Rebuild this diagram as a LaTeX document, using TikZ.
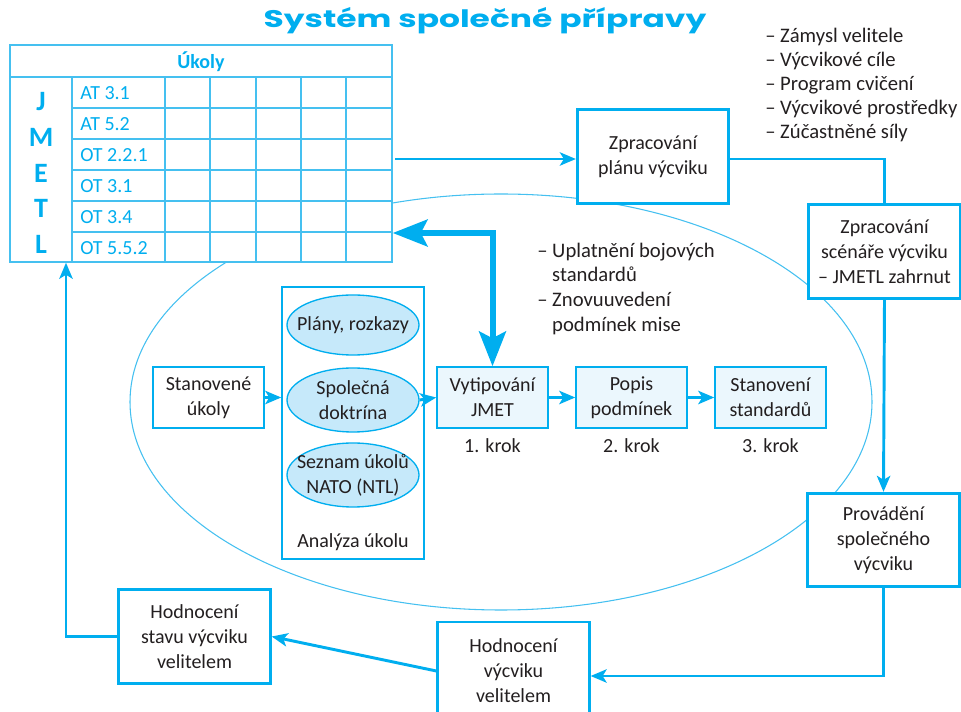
\documentclass[tikz,border=0pt]{standalone}
\usepackage{fontspec}
\setmainfont{Carlito}
\newfontfamily\titlefont{Poppins}
\usetikzlibrary{arrows.meta,shapes.geometric}
\definecolor{cy}{HTML}{00AEEF}
\definecolor{cyl}{HTML}{45C0F0}
\definecolor{ellfill}{HTML}{C6E9FA}
\definecolor{stepfill}{HTML}{EBF7FD}
\definecolor{txt}{HTML}{231F20}
\begin{document}
\begin{tikzpicture}[x=0.75pt,y=-0.75pt,
  base/.style={align=center, inner sep=0pt, text=txt, font=\fontsize{15}{18.75}\selectfont},
  thickbox/.style={base, draw=cy, line width=2.2pt, fill=white, minimum width=113.5pt, minimum height=70pt},
  thinbox/.style={base, draw=cy, line width=1.1pt, fill=white, minimum width=83.25pt, minimum height=45.75pt},
  stepbox/.style={thinbox, fill=stepfill},
  ellbox/.style={ellipse, draw=cy, line width=1pt, fill=ellfill, minimum width=99pt, minimum height=47pt, inner sep=0pt},
  lbl/.style={base},
  tabline/.style={draw=cyl, line width=1.1pt},
  tabtxt/.style={inner sep=0pt, text=cy, font=\fontsize{15}{17}\selectfont, anchor=west},
  letter/.style={inner sep=0pt, text=cy, font=\fontsize{21}{22}\selectfont\bfseries},
  conn/.style={draw=cy, line width=2.2pt},
  arr/.style={conn, -{Stealth[length=12pt,width=10pt,inset=3pt]}},
  dbl/.style={draw=cy, line width=4.5pt, {Stealth[length=26pt,width=20pt,inset=5pt]}-{Stealth[length=26pt,width=20pt,inset=5pt]}},
  listtxt/.style={inner sep=0pt, text=txt, align=left, font=\fontsize{15.5}{18}\selectfont}
]
\useasboundingbox (0,0) rectangle (961,712);

% big ellipse
\node[ellipse, draw=cyl, line width=0.8pt, minimum width=556.5pt, minimum height=312pt, inner sep=0pt] (big) at (501,402) {};

% title
\node[inner sep=0pt, text=cy] (title) at (485,21) {\scalebox{1.37}[1]{\titlefont\bfseries\fontsize{18}{20}\selectfont Systém společné přípravy}};

% table
\node[draw=cyl, line width=1.1pt, fill=white, minimum width=286.5pt, minimum height=162.75pt, inner sep=0pt] (tab) at (201,153.5) {};
\draw[tabline] (10,77) -- (392,77);
\foreach \yy in {108,139,170,201,232} \draw[tabline] (72,\yy) -- (392,\yy);
\foreach \xx in {72,165,210,256,301,346} \draw[tabline] (\xx,77) -- (\xx,262);
\node[inner sep=0pt, text=cy, font=\fontsize{15}{17}\selectfont\bfseries] (uk) at (201,62) {Úkoly};
\node[tabtxt] (r1) at (80,93) {AT 3.1};
\node[tabtxt] (r2) at (80,124) {AT 5.2};
\node[tabtxt] (r3) at (80,155) {OT 2.2.1};
\node[tabtxt] (r4) at (80,186) {OT 3.1};
\node[tabtxt] (r5) at (80,217) {OT 3.4};
\node[tabtxt] (r6) at (80,248) {OT 5.5.2};
\node[letter] (lJ) at (41,102) {J};
\node[letter] (lM) at (41,137) {M};
\node[letter] (lE) at (41,173) {E};
\node[letter] (lT) at (41,208) {T};
\node[letter] (lL) at (41,244) {L};

% right column boxes
\node[thickbox] (plan) at (653,156.5) {Zpracování\\plánu výcviku};
\node[thickbox] (scen) at (884.5,251.5) {Zpracování\\scénáře výcviku\\– JMETL zahrnut};
\node[thickbox] (prov) at (883.5,540) {Provádění\\společného\\výcviku};
\node[thickbox, minimum height=73.5pt] (hvv) at (513.5,671) {Hodnocení\\výcviku\\velitelem};
\node[thickbox] (hsv) at (194.5,636.5) {Hodnocení\\stavu výcviku\\velitelem};

% lists
\node[listtxt, anchor=west] (lst1) at (765,85) {– Zámysl velitele\\– Výcvikové cíle\\– Program cvičení\\– Výcvikové prostředky\\– Zúčastněné síly};
\node[listtxt, anchor=west, font=\fontsize{15.5}{18.5}\selectfont] (lst2) at (537,288.5) {– Uplatnění bojových\\\hphantom{– }standardů\\– Znovuuvedení\\\hphantom{– }podmínek mise};

% analysis
\node[thinbox, minimum width=106.5pt, minimum height=204pt] (an) at (353,423) {};
\node[lbl] (anl) at (353,542) {Analýza úkolu};
\node[ellbox, minimum height=45pt] (e1) at (353,325) {};
\node[lbl] (e1t) at (e1) {Plány, rozkazy};
\node[ellbox, minimum height=48pt] (e2) at (353,400) {};
\node[lbl] (e2t) at (e2) {Společná\\doktrína};
\node[ellbox, minimum height=48pt] (e3) at (353,475) {};
\node[lbl] (e3t) at (e3) {Seznam úkolů\\NATO (NTL)};

% step boxes
\node[thinbox] (stan) at (208.5,397.5) {Stanovené\\úkoly};
\node[stepbox] (vyt) at (492.5,397.5) {Vytipování\\JMET};
\node[stepbox] (pop) at (631.5,397.5) {Popis\\podmínek};
\node[stepbox] (std) at (770.5,397.5) {Stanovení\\standardů};
\node[lbl] (k1) at (492.5,446) {1. krok};
\node[lbl] (k2) at (631.5,446) {2. krok};
\node[lbl] (k3) at (770.5,446) {3. krok};

% connectors
\coordinate (tA) at (395,159);
\draw[arr] (tA) -- (tA -| plan.west);
\draw[conn] (plan.east |- tA) -- (scen.north |- tA) -- (scen.north);
\draw[arr] (scen.south) -- (prov.north);
\coordinate (c1) at (884,676);
\draw[arr] (prov.south) -- (prov.south |- c1) -- (c1 -| hvv.east);
\draw[arr] (hvv.west) -- (hsv.east);
\coordinate (c2) at (66,636.5);
\draw[arr] (hsv.west) -- (c2) -- (c2 |- tab.south);
\coordinate (d1) at (492.5,233);
\draw[dbl] (tab.east |- d1) -- (d1) -- (vyt.north);
\draw[arr] (stan.east) -- (stan.east -| an.west);
\draw[arr] (e2.east) -- (vyt.west);
\draw[arr] (vyt.east) -- (pop.west);
\draw[arr] (pop.east) -- (std.west);
\end{tikzpicture}
\end{document}
